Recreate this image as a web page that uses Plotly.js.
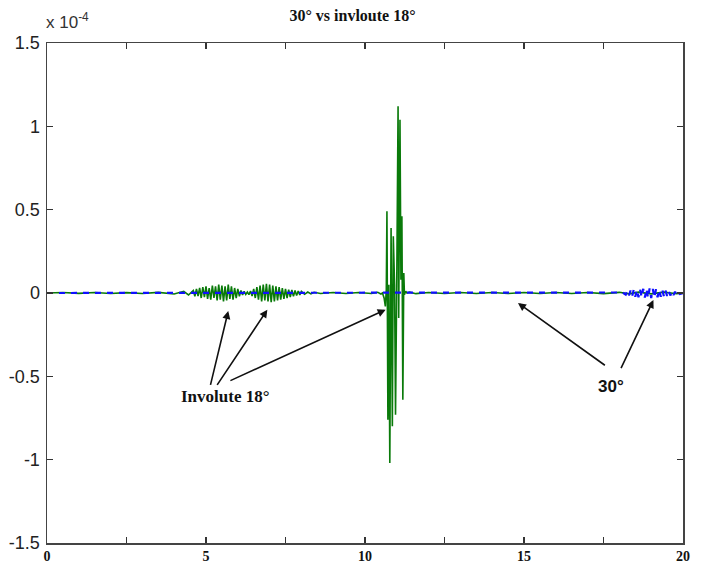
<!DOCTYPE html>
<html>
<head>
<meta charset="utf-8">
<script src="https://cdn.plot.ly/plotly-3.0.1.min.js"></script>
<style>html,body{margin:0;padding:0;background:#fff;}#chart{width:705px;height:564px;}</style>
</head>
<body>
<div id="chart"></div>
<script>
// Values in units of 1e-4 (axis shows "x 10^-4")
const involuteX = [
  0, 0.5, 1.0, 1.5, 2.0, 2.5, 3.0, 3.5, 4.0, 4.3, 4.45,
  4.60, 4.65, 4.70, 4.75, 4.80, 4.85, 4.90, 4.95, 5.00, 5.05, 5.10, 5.15, 5.20, 5.25, 5.30, 5.35,
  5.40, 5.45, 5.50, 5.55, 5.60, 5.65, 5.70, 5.75, 5.80, 5.85, 5.90, 5.95, 6.00, 6.05, 6.10, 6.15,
  6.20, 6.25, 6.30, 6.35, 6.40,
  6.45, 6.50, 6.55, 6.60, 6.65, 6.70, 6.75, 6.80, 6.85, 6.90, 6.95, 7.00, 7.05, 7.10, 7.15, 7.20,
  7.25, 7.30, 7.35, 7.40, 7.45, 7.50, 7.55, 7.60, 7.65, 7.70, 7.75, 7.80, 7.85, 7.90, 7.95, 8.00,
  8.10, 8.20, 8.30, 8.40,
  8.6, 9.0, 9.4, 9.8, 10.2, 10.4, 10.5,
  10.55, 10.60, 10.64, 10.67, 10.69, 10.72, 10.75, 10.78, 10.82, 10.86, 10.89, 10.93, 10.96, 11.00,
  11.04, 11.06, 11.10, 11.13, 11.16, 11.19, 11.22, 11.24, 11.28, 11.32,
  11.4, 11.6, 12.0, 12.5, 13.0, 13.5, 14.0, 14.5, 15.0, 15.5, 16.0, 16.5, 17.0, 17.5, 18.0, 18.3,
  18.6, 19.0, 19.4, 19.8, 20.0
];
const involuteY = [
  0, 0.003, -0.002, 0.003, -0.003, 0.002, -0.003, 0.004, -0.006, 0.01, -0.012,
  0.015, -0.02, 0.025, -0.018, 0.03, -0.03, 0.035, -0.025, 0.04, -0.035, 0.03, -0.04, 0.045, -0.03, 0.04, -0.045,
  0.05, -0.04, 0.045, -0.05, 0.04, -0.045, 0.05, -0.035, 0.04, -0.04, 0.03, -0.03, 0.025, -0.02, 0.015, -0.012,
  0.01, -0.008, 0.006, -0.01, 0.012,
  -0.018, 0.025, -0.03, 0.035, -0.04, 0.045, -0.05, 0.05, -0.045, 0.055, -0.05, 0.05, -0.055, 0.045, -0.05, 0.04,
  -0.045, 0.035, -0.04, 0.03, -0.035, 0.025, -0.03, 0.02, -0.025, 0.018, -0.02, 0.015, -0.015, 0.012, -0.012, 0.01,
  -0.008, 0.006, -0.005, 0.004,
  -0.003, 0.003, -0.003, 0.003, -0.003, 0.004, -0.006,
  0, -0.03, -0.08, 0.02, 0.49, -0.76, 0.05, -1.02, 0.39, -0.80, 0.34, 0.05, -0.73, 0.10,
  1.12, -0.15, 1.04, 0.08, 0.46, -0.64, 0.12, -0.01, 0.01, 0,
  0.005, -0.004, 0.003, -0.003, 0.003, -0.003, 0.003, -0.003, 0.003, -0.003, 0.003, -0.003, 0.003, -0.004, 0.004, -0.005,
  0.005, -0.005, 0.005, -0.004, 0
];
const deg30X = [
  0, 18.0, 18.1,
  18.20, 18.25, 18.30, 18.35, 18.40, 18.45, 18.50, 18.55, 18.60, 18.65, 18.70, 18.75, 18.80, 18.85,
  18.90, 18.95, 19.00, 19.05, 19.10, 19.15, 19.20, 19.25, 19.30, 19.35, 19.40, 19.45, 19.50, 19.55,
  19.60, 19.65, 19.70, 19.75, 19.80, 19.85, 19.90, 20.0
];
const deg30Y = [
  0, 0, 0.003,
  -0.01, 0.012, -0.015, 0.015, -0.02, 0.018, -0.022, 0.02, -0.025, 0.022, -0.025, 0.025, -0.028, 0.025,
  -0.03, 0.028, -0.03, 0.025, -0.028, 0.022, -0.025, 0.02, -0.022, 0.018, -0.02, 0.015, -0.018, 0.012,
  -0.015, 0.01, -0.012, 0.008, -0.01, 0.006, -0.006, 0
];
const xTickVals = [0, 2.5, 5, 7.5, 10, 12.5, 15, 17.5, 20];
const xTickText = ['0', '', '5', '', '10', '', '15', '', '20'];
const yTickVals = [-1.5, -1, -0.5, 0, 0.5, 1, 1.5];
const yTickText = ['-1.5', '-1', '-0.5', '0', '0.5', '1', '1.5'];

// annotation arrows: [headX, headY, tailX, tailY]
const involuteArrows = [[5.70, -0.108, 5.13, -0.56], [6.93, -0.10, 5.32, -0.56], [10.65, -0.10, 5.72, -0.53]];
const deg30Arrows = [[14.81, -0.06, 17.59, -0.44], [19.07, -0.042, 18.03, -0.46]];

const traces = [
  {x: involuteX, y: involuteY, type: 'scatter', mode: 'lines', line: {color: '#0a7a0a', width: 1.6}, hoverinfo: 'skip'},
  {x: deg30X, y: deg30Y, type: 'scatter', mode: 'lines', line: {color: '#1010ff', width: 2.2, dash: '6px,6px'}, hoverinfo: 'skip'}
];

const annotations = [];
involuteArrows.concat(deg30Arrows).forEach(a => {
  annotations.push({x: a[0], y: a[1], ax: a[2], ay: a[3], xref: 'x', yref: 'y', axref: 'x', ayref: 'y',
    text: '', showarrow: true, arrowhead: 2, arrowsize: 1, arrowwidth: 1.6, arrowcolor: '#111'});
});
annotations.push({x: 5.6, y: -0.62, xref: 'x', yref: 'y', text: 'Involute 18°', showarrow: false,
  font: {family: 'Liberation Serif', size: 17, color: '#111', weight: 'bold'}});
annotations.push({x: 17.75, y: -0.56, xref: 'x', yref: 'y', text: '30°', showarrow: false,
  font: {family: 'Liberation Sans', size: 17, color: '#111', weight: 'bold'}});
annotations.push({x: -0.005, y: 1.045, xref: 'paper', yref: 'paper', xanchor: 'left', yanchor: 'middle',
  text: 'x 10<sup>-4</sup>', showarrow: false, font: {family: 'Liberation Sans', size: 17, color: '#333'}});

const layout = {
  width: 705, height: 564, autosize: false,
  paper_bgcolor: '#fff', plot_bgcolor: '#fff',
  margin: {l: 47, r: 22, t: 43, b: 21, pad: 0},
  showlegend: false,
  title: {text: '30° vs invloute 18°', x: 0.5, xanchor: 'center', y: 0.973, yanchor: 'middle',
    font: {family: 'Liberation Serif', size: 16, color: '#111', weight: 'bold'}},
  xaxis: {range: [0, 20], tickvals: xTickVals, ticktext: xTickText, ticks: 'inside', ticklen: 6, tickwidth: 1.5,
    tickcolor: '#333', showline: true, linecolor: '#444', linewidth: 1.5, mirror: 'ticks', showgrid: false, zeroline: false,
    tickfont: {family: 'Liberation Serif', size: 14, color: '#111', weight: 'bold'}},
  yaxis: {range: [-1.5, 1.5], tickvals: yTickVals, ticktext: yTickText, ticks: 'inside', ticklen: 6, tickwidth: 1.5,
    tickcolor: '#333', showline: true, linecolor: '#444', linewidth: 1.5, mirror: 'ticks', showgrid: false, zeroline: false,
    ticklabelstandoff: 2,
    tickfont: {family: 'Liberation Sans', size: 18, color: '#222'}},
  annotations: annotations
};

Plotly.newPlot('chart', traces, layout, {staticPlot: true, displayModeBar: false});
</script>
</body>
</html>
